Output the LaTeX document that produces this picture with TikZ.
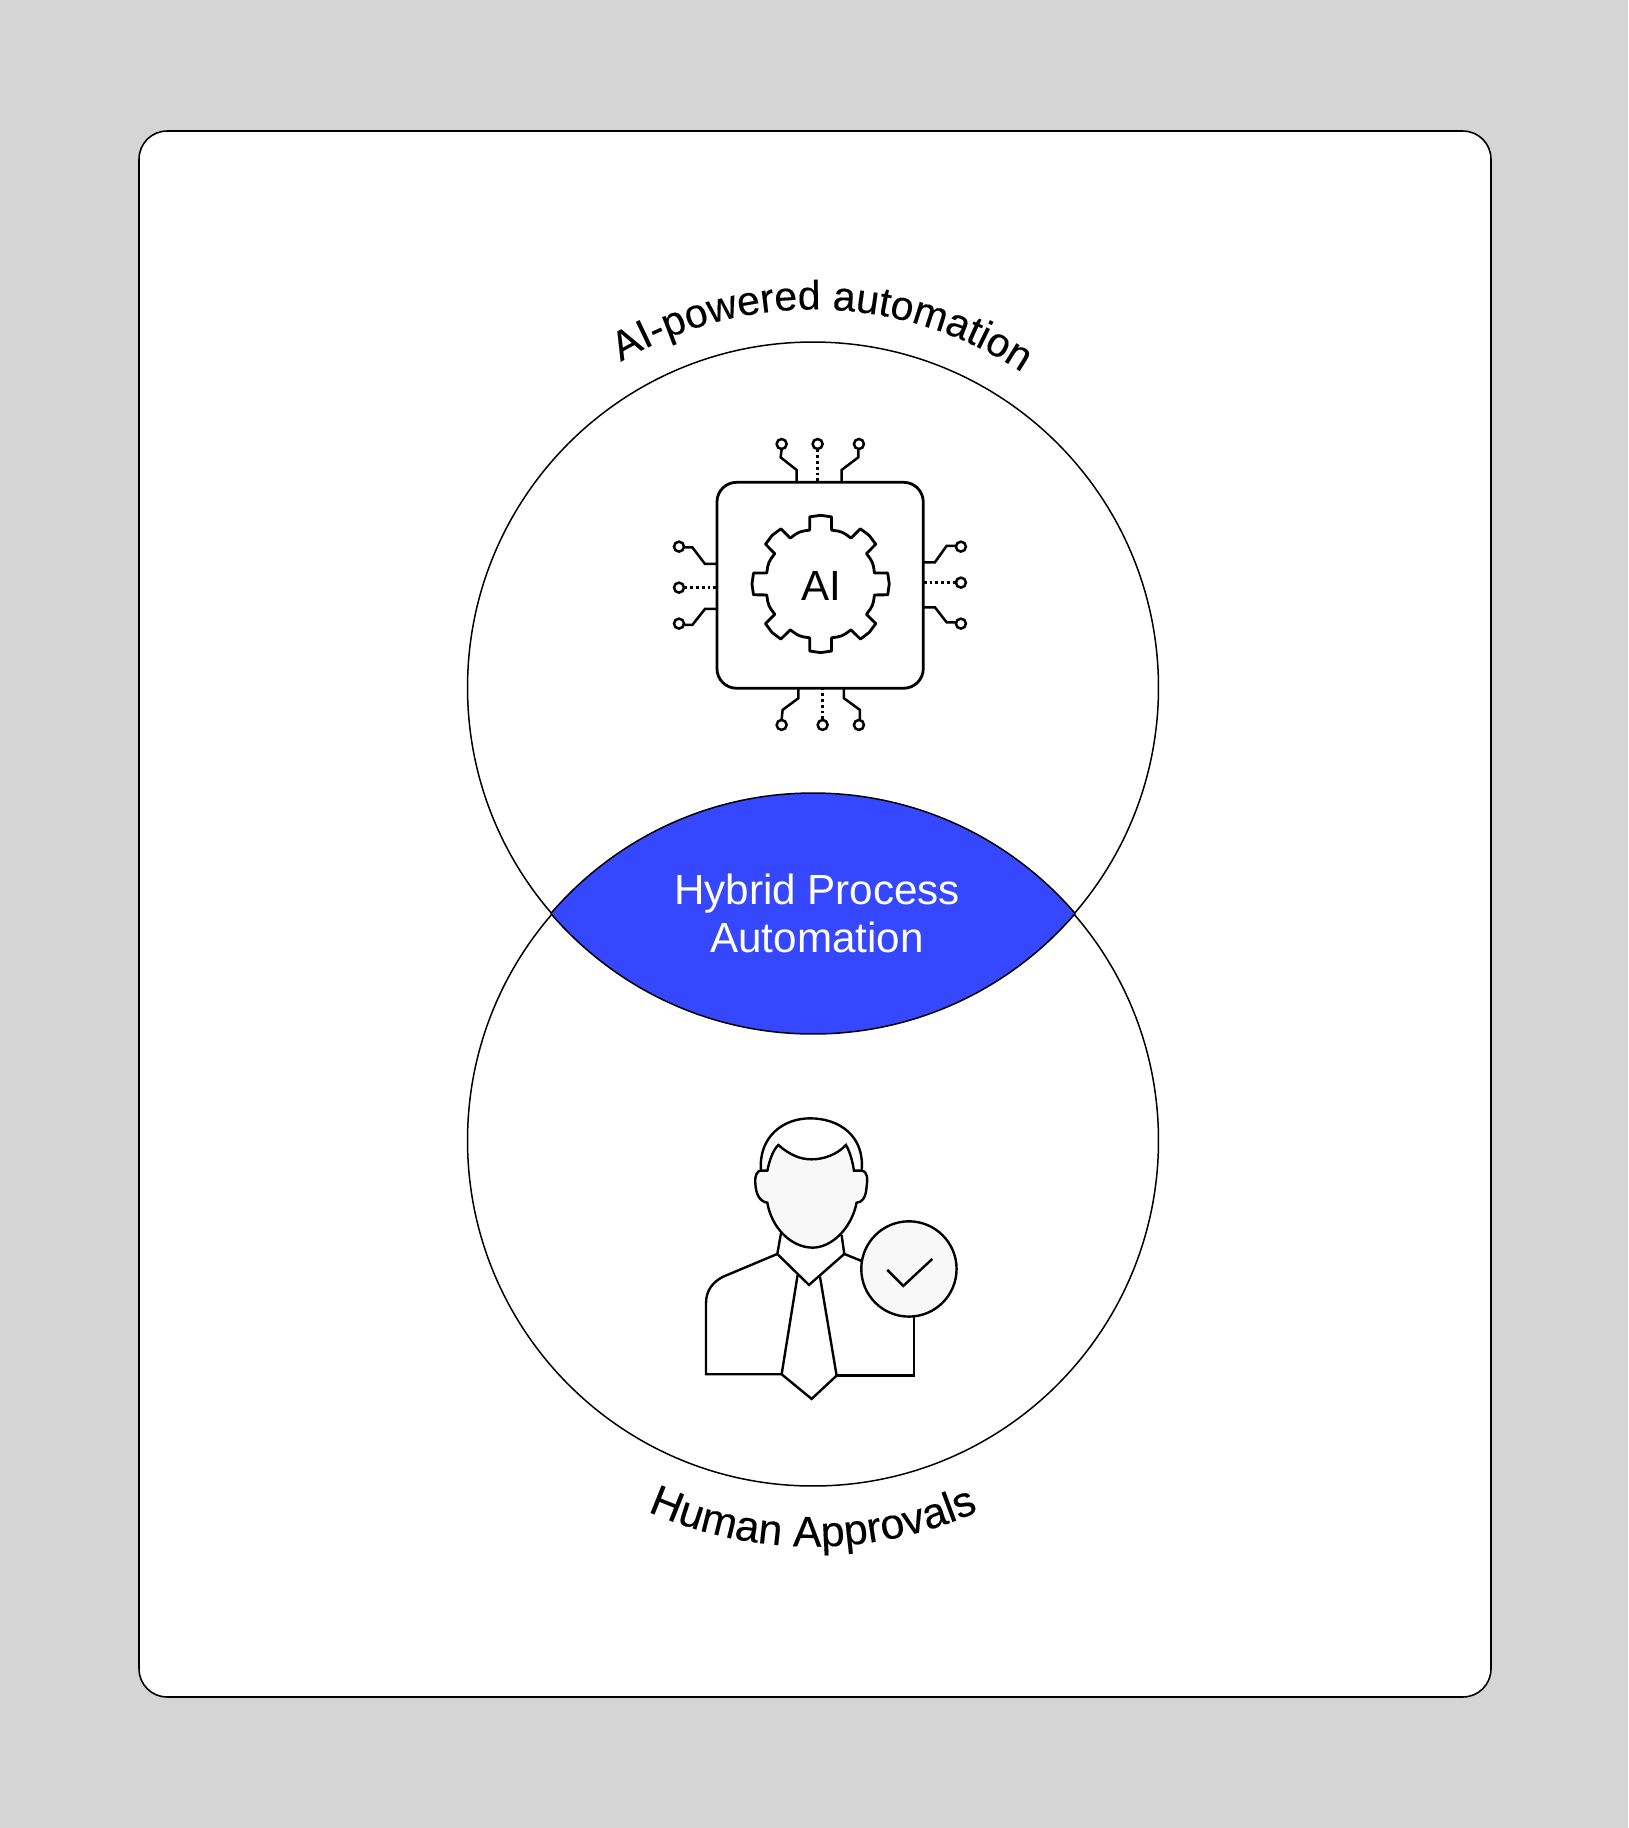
\documentclass[tikz,border=0pt]{standalone}
\usepackage{fontspec}
\setmainfont{Liberation Sans}
\newfontfamily\curvedfamily[FakeBold=0.25]{Liberation Sans}
\usetikzlibrary{decorations.text}
\definecolor{bgGrey}{HTML}{D5D5D5}
\definecolor{lensBlue}{HTML}{3548FF}
\definecolor{softFill}{HTML}{F8F8F8}
\newcommand{\labelfont}{\fontsize{60}{69}\selectfont}
\newcommand{\topfont}{\curvedfamily\fontsize{58.2}{70}\selectfont}
\newcommand{\botfont}{\curvedfamily\fontsize{61}{70}\selectfont}
\tikzset{
  px/.style={x=0.05cm,y=-0.05cm},
  up/.style={x=0.05cm,y=0.05cm},
  venn/.style={draw=black,line width=0.075cm},
  ink/.style={draw=black,line width=0.14cm,line join=round},
  thinink/.style={draw=black,line width=0.12cm,line join=miter},
  wire/.style={draw=black,line width=0.125cm},
  dotwire/.style={draw=black,line width=0.125cm,dash pattern=on 0.14cm off 0.15cm},
  pin/.style={draw=black,line width=0.125cm,fill=white},
}
\begin{document}
\begin{tikzpicture}[px]
\useasboundingbox (0,0) rectangle (1628,1828);
\fill[bgGrey] (0,0) rectangle (1628,1828);
\node[draw=black,line width=0.08cm,fill=white,rounded corners=1.4cm,minimum width=67.6cm,minimum height=78.3cm,inner sep=0pt,anchor=center] (frame) at (815,914) {};
\coordinate (topC) at (813,687.5);
\coordinate (botC) at (813,1140.5);
\coordinate (lensTop) at (813,688.5);
\coordinate (lensBot) at (813,1138.5);
\draw[venn] (topC) circle[radius=17.275cm];
\draw[venn] (botC) circle[radius=17.275cm];
\begin{scope}
  \clip (lensTop) circle[radius=17.275cm];
  \fill[lensBlue] (lensBot) circle[radius=17.275cm];
  \draw[venn] (lensBot) circle[radius=17.275cm];
\end{scope}
\begin{scope}
  \clip (lensBot) circle[radius=17.275cm];
  \draw[venn] (lensTop) circle[radius=17.275cm];
\end{scope}
\node[text=white,align=center,font=\labelfont,inner sep=0pt] (hybrid) at (817,913.5) {Hybrid Process\\Automation};
% curved labels
\begin{scope}[up,shift={(topC)}]
  \path[decorate,decoration={text along path,text align=center,text={|\topfont|AI-powered automation}}]
    (148.5:378) arc[start angle=148.5,end angle=28.5,radius=378];
\end{scope}
\begin{scope}[up,shift={(botC)}]
  \path[decorate,decoration={text along path,text align=center,text={|\botfont|Human Approvals}}]
    (210:406) arc[start angle=210,end angle=330,radius=406];
\end{scope}
% chip
\begin{scope}[shift={(650,420)},x=0.016667cm,y=-0.016667cm]
  \foreach \a/\b/\c/\d/\e/\f/\g/\h in {
    395/88/392/112/440/150/440/185,
    625/88/625/112/575/150/575/185,
    395/898/398/870/445/835/445/805,
    630/898/630/870/582/835/582/805,
    103/382/127/382/165/432/200/432,
    103/615/127/615/165/567/200/567,
    917/378/890/378/855/427/820/427,
    917/607/890/607/855/562/820/562}
    {\draw[wire] (\a,\b) -- (\c,\d) -- (\e,\f) -- (\g,\h);}
  \draw[dotwire] (503,88) -- (503,185);
  \draw[dotwire] (518,898) -- (518,805);
  \draw[dotwire] (103,503) -- (200,503);
  \draw[dotwire] (917,488) -- (820,488);
  \foreach \p/\q in {395/72,503/72,627/72,395/915,518/915,627/915,87/380,87/503,87/611,933/380,933/488,933/611}
    {\path[pin] (\p,\q) circle[radius=15];}
  \draw[ink,fill=white,rounded corners=0.98cm] (201,187) rectangle (820,805);
  \begin{scope}[shift={(512,492)}]
    \draw[ink] (-9.2:204) \foreach \t in {0,45,...,315} {
      -- ({\t-9.2}:204) -- ({\t}:206) -- ({\t+9.2}:204) -- ({\t+11.5}:165) -- ({\t+18}:167) -- ({\t+22.5}:168) -- ({\t+27}:167) -- ({\t+33.5}:165)
    } -- cycle;
  \end{scope}
  \node[font=\labelfont,inner sep=0pt] (ai) at (515,498) {AI};
\end{scope}
% person
\begin{scope}[shift={(680,1100)},x=0.016667cm,y=-0.016667cm]
  \draw[thinink] (243,212) .. controls (235,110) and (310,55) .. (390,55) .. controls (480,55) and (555,110) .. (545,212);
  \draw[thinink,fill=softFill] (295,135) .. controls (330,165) and (360,178) .. (395,178) .. controls (430,178) and (470,165) .. (498,135) .. controls (510,155) and (518,185) .. (522,212) -- (545,212) .. controls (565,215) and (563,240) .. (560,260) .. controls (558,295) and (545,308) .. (530,308) .. controls (515,385) and (455,443) .. (398,443) .. controls (335,443) and (275,385) .. (262,308) .. controls (240,305) and (228,285) .. (226,250) .. controls (224,225) and (232,212) .. (243,212) -- (262,212) .. controls (270,175) and (280,150) .. (295,135) -- cycle;
  \draw[thinink] (303,400) -- (292,462) -- (387,555) -- (493,462) -- (485,405);
  \draw[thinink] (292,462) -- (130,530) .. controls (100,545) and (78,570) .. (78,610) -- (78,823) -- (305,823);
  \draw[thinink] (353,525) -- (305,823) -- (395,897) -- (470,827) -- (420,530);
  \draw[thinink] (470,827) -- (702,827) -- (702,650);
  \draw[thinink] (493,462) -- (545,483);
  \draw[thinink,fill=softFill] (687,507) circle[radius=143];
  \draw[thinink] (622,510) -- (670,558) -- (757,477);
\end{scope}
\end{tikzpicture}
\end{document}
